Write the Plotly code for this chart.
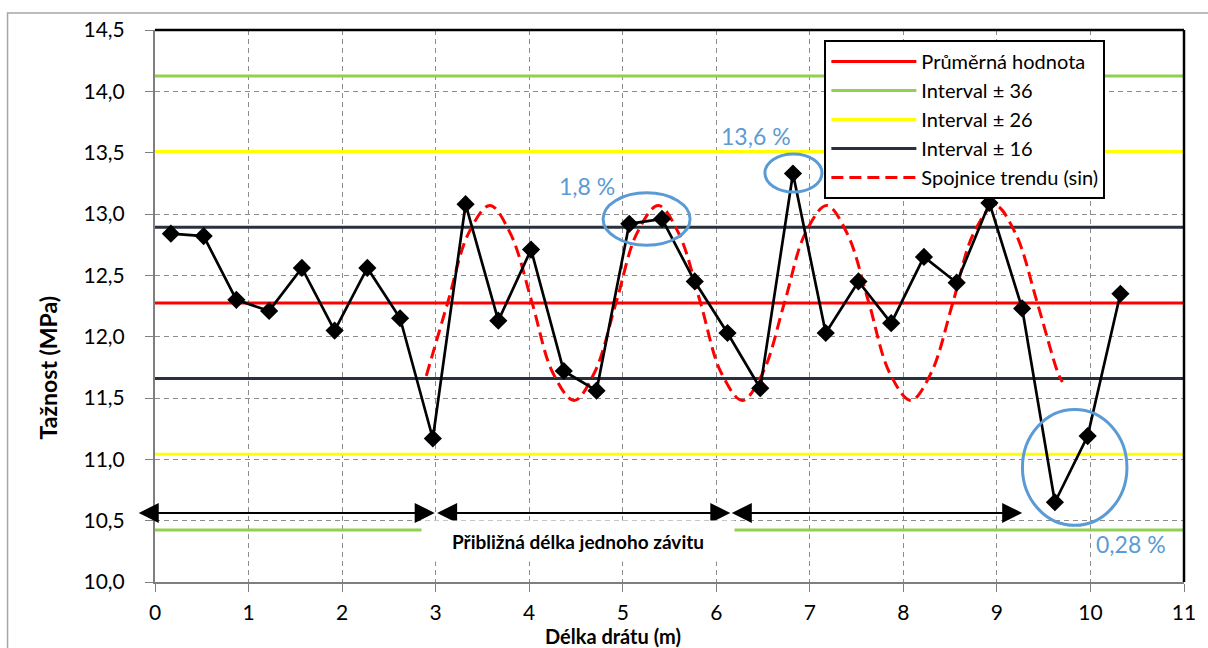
import plotly.graph_objects as go

# ---- data ----
wire_length = [0.17, 0.52, 0.87, 1.22, 1.57, 1.92, 2.27, 2.62, 2.97, 3.32,
               3.67, 4.02, 4.37, 4.72, 5.07, 5.42, 5.77, 6.12, 6.47, 6.82,
               7.17, 7.52, 7.87, 8.22, 8.57, 8.92, 9.27, 9.62, 9.97, 10.32]
tensile = [12.84, 12.82, 12.30, 12.21, 12.56, 12.05, 12.56, 12.15, 11.17, 13.08,
           12.13, 12.71, 11.72, 11.56, 12.92, 12.96, 12.45, 12.03, 11.58, 13.33,
           12.03, 12.45, 12.11, 12.65, 12.44, 13.09, 12.23, 10.65, 11.19, 12.35]

trend_x = [2.90, 3.13, 3.35, 3.58, 3.80, 4.03, 4.25, 4.48, 4.70, 4.93, 5.15,
           5.38, 5.60, 5.83, 6.05, 6.28, 6.50, 6.73, 6.95, 7.18, 7.40, 7.63,
           7.85, 8.08, 8.30, 8.53, 8.75, 8.98, 9.20, 9.43, 9.65, 9.70]
trend_y = [11.68, 12.28, 12.84, 13.07, 12.84, 12.28, 11.71, 11.48, 11.71, 12.28, 12.84,
           13.07, 12.84, 12.28, 11.71, 11.48, 11.71, 12.28, 12.84, 13.07, 12.84, 12.28,
           11.71, 11.48, 11.71, 12.28, 12.84, 13.07, 12.84, 12.28, 11.71, 11.63]

x_span = [0, 11]
mean_value = 12.275
band_1 = [11.658, 12.892]   # Interval ± 16
band_2 = [11.041, 13.509]   # Interval ± 26
band_3 = [10.424, 14.126]   # Interval ± 36

series_names = ["Průměrná hodnota", "Interval ± 36", "Interval ± 26",
                "Interval ± 16", "Spojnice trendu (sin)"]
pct_labels = ["1,8 %", "13,6 %", "0,28 %"]
x_ticks = list(range(0, 12))
y_ticks = [10.0, 10.5, 11.0, 11.5, 12.0, 12.5, 13.0, 13.5, 14.0, 14.5]

FONT = "Lato, Carlito, Calibri, sans-serif"
BLUE = "#5B9BD5"

def band_xy(levels):
    xs = [x_span[0], x_span[1], None, x_span[0], x_span[1]]
    ys = [levels[1], levels[1], None, levels[0], levels[0]]
    return xs, ys

fig = go.Figure()

fig.add_trace(go.Scatter(x=x_span, y=[mean_value, mean_value], mode="lines",
                         line=dict(color="#FF0000", width=3), name=series_names[0]))
gx, gy = band_xy(band_3)
fig.add_trace(go.Scatter(x=gx, y=gy, mode="lines", line=dict(color="#92D050", width=3),
                         name=series_names[1]))
yx, yy = band_xy(band_2)
fig.add_trace(go.Scatter(x=yx, y=yy, mode="lines", line=dict(color="#FFFF00", width=3),
                         name=series_names[2]))
dx, dy = band_xy(band_1)
fig.add_trace(go.Scatter(x=dx, y=dy, mode="lines", line=dict(color="#28313D", width=3),
                         name=series_names[3]))
fig.add_trace(go.Scatter(x=trend_x, y=trend_y, mode="lines",
                         line=dict(color="#FF0000", width=3, dash="12px,6px", shape="spline",
                                   smoothing=1.0),
                         name=series_names[4]))
fig.add_trace(go.Scatter(x=wire_length, y=tensile, mode="lines+markers",
                         line=dict(color="black", width=2.7),
                         marker=dict(symbol="diamond", size=14, color="black"),
                         showlegend=False, name="Tažnost"))

# ellipses around highlighted points
for (x0, x1, y0, y1) in [(4.79, 5.72, 12.746, 13.173),
                         (6.52, 7.13, 13.179, 13.489),
                         (9.273, 10.39, 10.462, 11.406)]:
    fig.add_shape(type="circle", xref="x", yref="y", x0=x0, x1=x1, y0=y0, y1=y1,
                  line=dict(color=BLUE, width=3))

# black top / right frame of plot area
fig.add_shape(type="line", xref="paper", yref="paper", x0=0, x1=1, y0=1, y1=1,
              line=dict(color="black", width=2.5))
fig.add_shape(type="line", xref="paper", yref="paper", x0=1, x1=1, y0=0, y1=1,
              line=dict(color="black", width=2.5))
# outer chart border
fig.add_shape(type="rect", xref="paper", yref="paper", x0=-0.1433, x1=1.05, y0=-0.2, y1=1.0308,
              line=dict(color="#A6A6A6", width=1.5), layer="below")

annotations = []
# double-headed arrows
for (a, b) in [(-0.19, 2.99), (3.0, 6.15), (6.15, 9.27)]:
    annotations.append(dict(x=b, y=10.563, ax=a, ay=10.563, xref="x", yref="y",
                            axref="x", ayref="y", text="", showarrow=True,
                            arrowhead=2, arrowside="end+start", arrowwidth=2,
                            arrowsize=2.0, arrowcolor="black", standoff=0, startstandoff=0))
annotations.append(dict(x=4.521, y=10.336, xref="x", yref="y",
                        text="<b>Přibližná délka jednoho závitu</b>", showarrow=False,
                        bgcolor="white", width=310, height=38,
                        xanchor="center", yanchor="middle",
                        font=dict(family=FONT, size=19, color="black")))
for (txt, px, py) in zip(pct_labels, [4.617, 6.426, 10.436], [13.228, 13.635, 10.307]):
    annotations.append(dict(x=px, y=py, xref="x", yref="y", text=txt, showarrow=False,
                            xanchor="center", yanchor="middle",
                            font=dict(family=FONT, size=23, color=BLUE)))
annotations.append(dict(x=-0.1036, y=0.3877, xref="paper", yref="paper",
                        text="<b>Tažnost (MPa)</b>", textangle=-90, showarrow=False,
                        xanchor="center", yanchor="middle",
                        font=dict(family=FONT, size=23, color="black")))
annotations.append(dict(x=0.4453, y=-0.0985, xref="paper", yref="paper",
                        text="<b>Délka drátu (m)</b>", showarrow=False,
                        xanchor="center", yanchor="middle",
                        font=dict(family=FONT, size=20, color="black")))

fig.update_layout(
    width=1208, height=648,
    margin=dict(l=155, r=20, t=30, b=66),
    paper_bgcolor="white", plot_bgcolor="white",
    separators=", ",
    font=dict(family=FONT, size=20, color="black"),
    annotations=annotations,
    legend=dict(x=0.6505, y=0.982, xanchor="left", yanchor="top",
                bgcolor="white", bordercolor="black", borderwidth=2,
                font=dict(family=FONT, size=20, color="black"),
                tracegroupgap=0, itemwidth=85),
)
fig.update_xaxes(range=[0, 11], tickvals=x_ticks, ticktext=[str(v) for v in x_ticks],
                 showgrid=True, gridcolor="#8C8C8C", griddash="5px,4px", gridwidth=1,
                 showline=True, linecolor="#7F7F7F", linewidth=2,
                 ticks="outside", ticklen=8, tickcolor="#7F7F7F", ticklabelstandoff=3,
                 zeroline=False, tickfont=dict(family=FONT, size=21))
fig.update_yaxes(range=[10, 14.5], tickvals=y_ticks, tickformat=".1f",
                 showgrid=True, gridcolor="#8C8C8C", griddash="5px,4px", gridwidth=1,
                 showline=True, linecolor="#7F7F7F", linewidth=2,
                 ticks="outside", ticklen=8, tickcolor="#7F7F7F", ticklabelstandoff=16,
                 zeroline=False, tickfont=dict(family=FONT, size=21))

fig.write_html("out.html")
